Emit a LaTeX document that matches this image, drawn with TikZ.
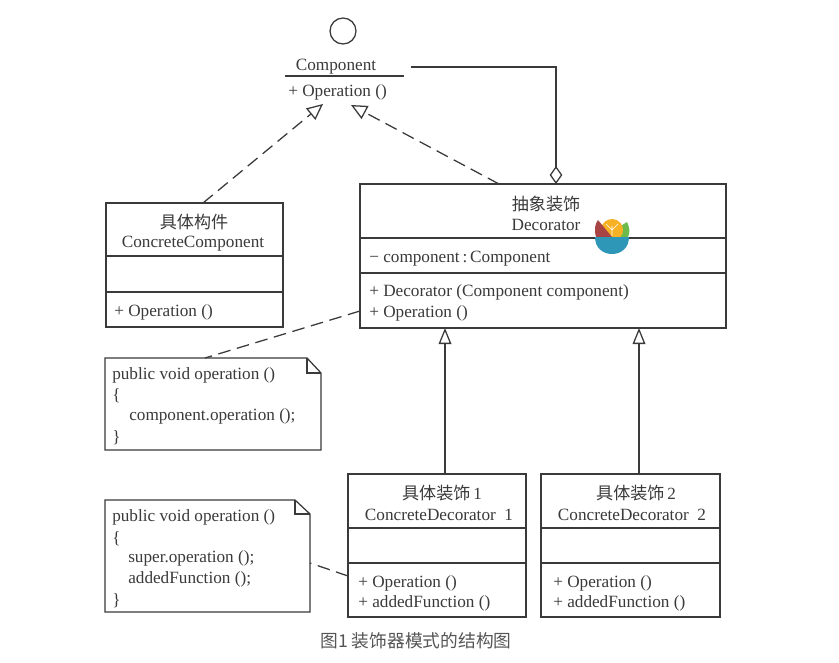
\documentclass[tikz,border=0pt]{standalone}
\usepackage{fontspec}
\setmainfont{Liberation Serif}
\newfontfamily\cjk{Noto Sans CJK SC}
\usetikzlibrary{arrows.meta}
\definecolor{ink}{HTML}{3A3A3A}
\definecolor{capgray}{HTML}{555555}
\definecolor{bowl}{HTML}{2E97B8}
\definecolor{fruitred}{HTML}{A84444}
\definecolor{fruitorange}{HTML}{F7B125}
\definecolor{fruitgreen}{HTML}{6DBB4B}
\tikzset{
  x=0.75pt,y=-0.75pt,
  line/.style={draw=ink,line width=0.95pt},
  boxnode/.style={line,rectangle,inner sep=0,outer sep=0,fill=white},
  ghost/.style={rectangle,inner sep=0,outer sep=0},
  tl/.style={text=ink,font=\fontsize{12.9}{15}\selectfont,inner sep=0,anchor=west,yshift=-1.8pt},
  tc/.style={text=ink,font=\fontsize{12.9}{15}\selectfont,inner sep=0,anchor=center,yshift=-1.8pt},
  zh/.style={text=ink,font=\cjk\fontsize{12.8}{15}\selectfont,inner sep=0,anchor=center,yshift=-0.9pt},
  dep/.style={line,dash pattern=on 9.5pt off 5pt},
  realize/.style={dep,-{Triangle[open,length=12pt,width=11pt,line width=0.95pt]}},
  inherit/.style={line,-{Triangle[open,length=12pt,width=9.5pt,line width=0.95pt]}},
  aggr/.style={line,{Diamond[open,length=13.5pt,width=9.5pt,line width=0.95pt]}-},
}
\begin{document}
\begin{tikzpicture}
\useasboundingbox (0,0) rectangle (839,663);
\fill[white] (0,0) rectangle (839,663);

% Component interface
\node[line,circle,minimum size=19.5pt,inner sep=0] (lollipop) at (343,31) {};
\node[tc] (compname) at (336,64) {Component};
\draw[line] (285,76) -- (404,76);
\node[tl] (compop) at (288,90) {+ Operation ()};
\node[ghost,minimum width=89.25pt,minimum height=39.75pt] (comp) at (344.5,78) {};
\coordinate (compout) at (411,67);
\coordinate (tipA) at (323,104);
\coordinate (tipB) at (351,105);

% ConcreteComponent
\node[boxnode,minimum width=132.75pt,minimum height=93pt] (cc) at (194.5,265) {};
\draw[line] (106,256) -- (283,256) (106,292) -- (283,292);
\node[zh] (cczh) at (194,221) {具体构件};
\node[tc] (ccen) at (193,241) {ConcreteComponent};
\node[tl] (ccop) at (114,310) {+ Operation ()};

% Decorator
\node[boxnode,minimum width=274.5pt,minimum height=108pt] (dec) at (543,256) {};
\draw[line] (360,238) -- (726,238) (360,273) -- (726,273);
\node[zh] (deczh) at (546,203) {抽象装饰};
\node[tc] (decen) at (546,223) {Decorator};
\node[tl] (decattr) at (369,256) {− component\,:\,Component};
\node[tl] (decm1) at (369,290) {+ Decorator (Component component)};
\node[tl] (decm2) at (369,311) {+ Operation ()};

% Watermark
\fill[fruitgreen] (616,237) -- (619,227) -- (627,222) .. controls (630,228) and (630,233) .. (628,237) -- cycle;
\fill[fruitorange] (603.5,237) arc[start angle=140.5,end angle=399.5,radius=11] -- cycle;
\draw[white,line width=.4pt] (612,236) -- (612,226) (612,230) -- (618,224) (612,230) -- (606,224);
\fill[fruitred] (596,237) .. controls (594,229) and (595,224) .. (598,220) -- (612,237) -- cycle;
\fill[bowl] (595,237) -- (629,237) .. controls (629,248) and (621,254) .. (612,254) .. controls (603,254) and (595,248) .. (595,237) -- cycle;

% Note 1
\node[ghost,minimum width=162pt,minimum height=69pt] (noteA) at (213,404) {};
\draw[line,fill=white] (105,358) -- (307,358) -- (321,373) -- (321,450) -- (105,450) -- cycle;
\draw[line] (307,358) -- (307,373) -- (321,373);
\node[tl] (a1) at (112,373) {public void operation ()};
\node[tl] (a2) at (112,393) {\{};
\node[tl] (a3) at (129,414) {component.operation ();};
\node[tl] (a4) at (112,435) {\}};

% Concrete decorators
\node[boxnode,minimum width=133.5pt,minimum height=107.25pt] (cd1) at (437,545.5) {};
\draw[line] (348,528) -- (526,528) (348,563) -- (526,563);
\node[zh] (cd1zh) at (442,492) {具体装饰\,\fontspec{Liberation Serif}1};
\node[tc] (cd1en) at (439,512) {ConcreteDecorator\ \ 1};
\node[tl] (cd1a) at (358,581) {+ Operation ()};
\node[tl] (cd1b) at (358,601) {+ addedFunction ()};

\node[boxnode,minimum width=134.25pt,minimum height=107.25pt] (cd2) at (630.5,545.5) {};
\draw[line] (541,528) -- (720,528) (541,563) -- (720,563);
\node[zh] (cd2zh) at (636,492) {具体装饰\,\fontspec{Liberation Serif}2};
\node[tc] (cd2en) at (632,512) {ConcreteDecorator\ \ 2};
\node[tl] (cd2a) at (553,581) {+ Operation ()};
\node[tl] (cd2b) at (553,601) {+ addedFunction ()};

% Note 2
\node[ghost,minimum width=153.75pt,minimum height=84pt] (noteB) at (207.5,556) {};
\draw[line,fill=white] (105,500) -- (295,500) -- (310,514) -- (310,612) -- (105,612) -- cycle;
\draw[line] (295,500) -- (295,514) -- (310,514);
\node[tl] (b1) at (112,515) {public void operation ()};
\node[tl] (b2) at (112,536) {\{};
\node[tl] (b3) at (128,556) {super.operation ();};
\node[tl] (b4) at (128,577) {addedFunction ();};
\node[tl] (b5) at (112,598) {\}};

% Caption
\node[text=capgray,font=\cjk\fontsize{13.3}{16}\selectfont,inner sep=0] (cap) at (416,641) {图1 装饰器模式的结构图};

% Connectors
\coordinate (decA) at (499,184);
\coordinate (decB) at (556,184);
\draw[realize] ([xshift=72.75pt]cc.north west) -- (tipA);
\draw[realize] (decA) -- (tipB);
\draw[aggr] (decB) -- (556,67) -- (compout);
\draw[inherit] ([xshift=72.75pt]cd1.north west) -- ([xshift=63.75pt]dec.south west);
\draw[inherit] ([xshift=73.5pt]cd2.north west) -- ([xshift=209.25pt]dec.south west);
\draw[dep] ([yshift=12.75pt]dec.south west) -- ([xshift=75pt]noteA.north west);
\draw[dep] ([yshift=30.75pt]cd1.south west) -- ([yshift=36.75pt]noteB.south east);
\end{tikzpicture}
\end{document}
